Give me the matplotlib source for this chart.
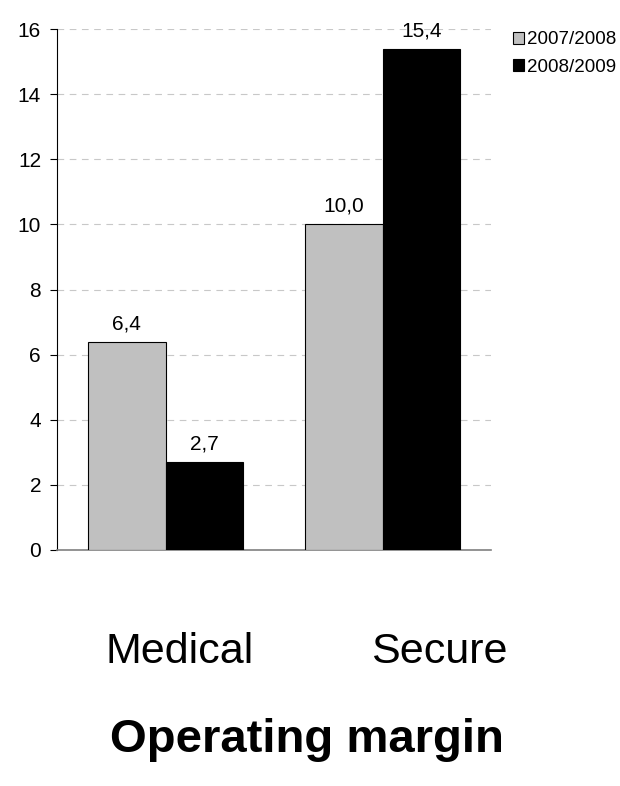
import numpy as np
import matplotlib
matplotlib.use("Agg")
import matplotlib.pyplot as plt

plt.rcParams['font.family'] = ['Liberation Sans', 'DejaVu Sans']

categories = ['Medical', 'Secure']
series_names = ['2007/2008', '2008/2009']
values_0708 = [6.4, 10.0]
values_0809 = [2.7, 15.4]
colors = ['#C0C0C0', '#000000']

# category captions sit apart from the bars, below the plot (figure fraction)
caption_x = [180 / 620, 439 / 620]
caption_y = 1 - 663 / 786

fig = plt.figure(figsize=(6.2, 7.86), dpi=100)
ax = fig.add_axes([0.092, 0.3003, 0.700, 0.6627])

x = np.arange(len(categories))
w = 0.357
for i, (vals, name, c) in enumerate(zip([values_0708, values_0809], series_names, colors)):
    bars = ax.bar(x + (i - 0.5) * w, vals, w, color=c, edgecolor='black', linewidth=0.8, label=name, zorder=3)
    for b, v in zip(bars, vals):
        ax.annotate(f"{v:.1f}".replace('.', ','), (b.get_x() + b.get_width() / 2, v),
                    xytext=(0, 9), textcoords='offset points', ha='center', va='baseline',
                    fontsize=15, zorder=4)

ax.set_xlim(-0.5, 1.5)
ax.set_ylim(0, 16)
ax.set_yticks(range(0, 17, 2))
ax.tick_params(axis='y', length=5, width=0.8, labelsize=15, pad=6.5)
ax.set_xticks(x)
ax.tick_params(axis='x', length=0, labelbottom=False)
ax.grid(axis='y', color='#C8C8C8', linestyle=(0, (6, 5)), linewidth=0.8, zorder=0)
for s in ['top', 'right']:
    ax.spines[s].set_visible(False)
ax.spines['bottom'].set_color('#808080')
ax.spines['bottom'].set_linewidth(1.2)
ax.spines['left'].set_linewidth(0.8)

for cx, cat in zip(caption_x, categories):
    fig.text(cx, caption_y, cat, ha='center', va='baseline', fontsize=31)

ax.legend(loc='upper left', bbox_to_anchor=(0.827, 0.960), bbox_transform=fig.transFigure,
          frameon=False, fontsize=13.5, handlelength=0.6, handleheight=0.6,
          handletextpad=0.15, labelspacing=0.54, borderaxespad=0, borderpad=0)

fig.text(0.495, 1 - 752 / 786, 'Operating margin', ha='center', va='baseline',
         fontsize=34, fontweight='bold')

fig.savefig('out.png', dpi=100)
